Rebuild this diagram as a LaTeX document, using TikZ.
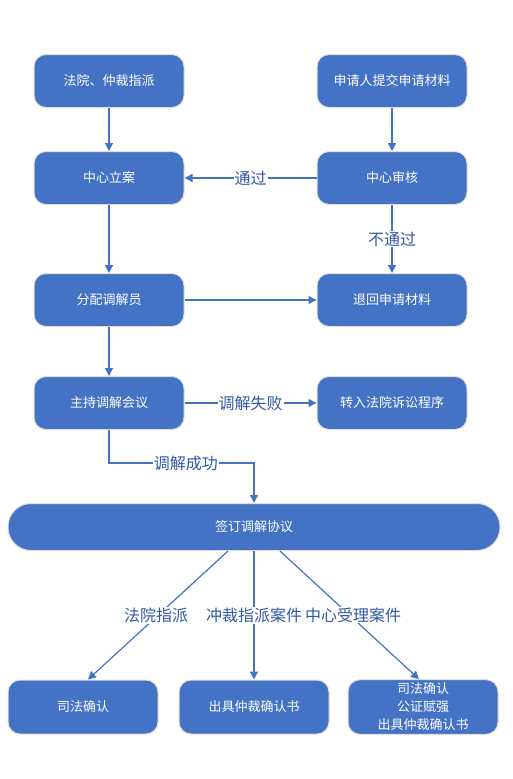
\documentclass[tikz,border=0pt]{standalone}
\usepackage{fontspec}
\setmainfont{Noto Sans CJK SC}
\usetikzlibrary{arrows.meta}
\definecolor{boxblue}{RGB}{68,114,196}
\definecolor{labelblue}{RGB}{52,88,164}
\begin{document}
\begin{tikzpicture}
[x=1pt,y=-1pt,
every node/.style={rectangle,rounded corners=12pt,fill=boxblue,draw=gray!25,line width=1pt,text=white,
  minimum width=150pt,minimum height=53pt,font=\fontsize{13pt}{18pt}\selectfont,align=center},
lbl/.style={fill=white,draw=none,rounded corners=0pt,text=labelblue,minimum width=0pt,minimum height=0pt,
  inner sep=1pt,font=\fontsize{16pt}{18pt}\selectfont},
line/.style={draw=boxblue,line width=1.2pt,-{Triangle[width=8pt,length=8pt]}}]
\useasboundingbox (0,0) rectangle (513,779);
\node (n1) at (109,81) {法院、仲裁指派};
\node (n2) at (392,81) {申请人提交申请材料};
\node (n3) at (109,178) {中心立案};
\node (n4) at (392,178) {中心审核};
\node (n5) at (109,300) {分配调解员};
\node (n6) at (392,300) {退回申请材料};
\node (n7) at (109,403) {主持调解会议};
\node (n8) at (392,403) {转入法院诉讼程序};
\node[minimum width=492pt,minimum height=47pt,rounded corners=23pt] (n9) at (254,527) {签订调解协议};
\node[minimum height=54pt] (n10) at (83,707) {司法确认};
\node[minimum height=54pt] (n11) at (254,707) {出具仲裁确认书};
\node[minimum height=54pt] (n12) at (423,707) {司法确认\\公证赋强\\出具仲裁确认书};
\foreach \from/\to in {n1/n3,n2/n4,n3/n5,n5/n6,n5/n7}
\draw[line] (\from) -- (\to);
\draw[line] (n4) -- node[lbl] {通过} (n3);
\draw[line] (n4) -- node[lbl] {不通过} (n6);
\draw[line] (n7) -- node[lbl] {调解失败} (n8);
\draw[line] (n7.south) -- ++(0,33) -| node[lbl,pos=0.265] {调解成功} (n9.north);
\draw[line] ([xshift=-26pt]n9.south) -- node[lbl,xshift=-2pt] {法院指派} ([xshift=5pt]n10.north);
\draw[line] (n9.south) -- node[lbl] {冲裁指派案件} (n11.north);
\draw[line] ([xshift=26pt]n9.south) -- node[lbl,xshift=3.5pt] {中心受理案件} ([xshift=-4pt]n12.north);
\end{tikzpicture}
\end{document}
